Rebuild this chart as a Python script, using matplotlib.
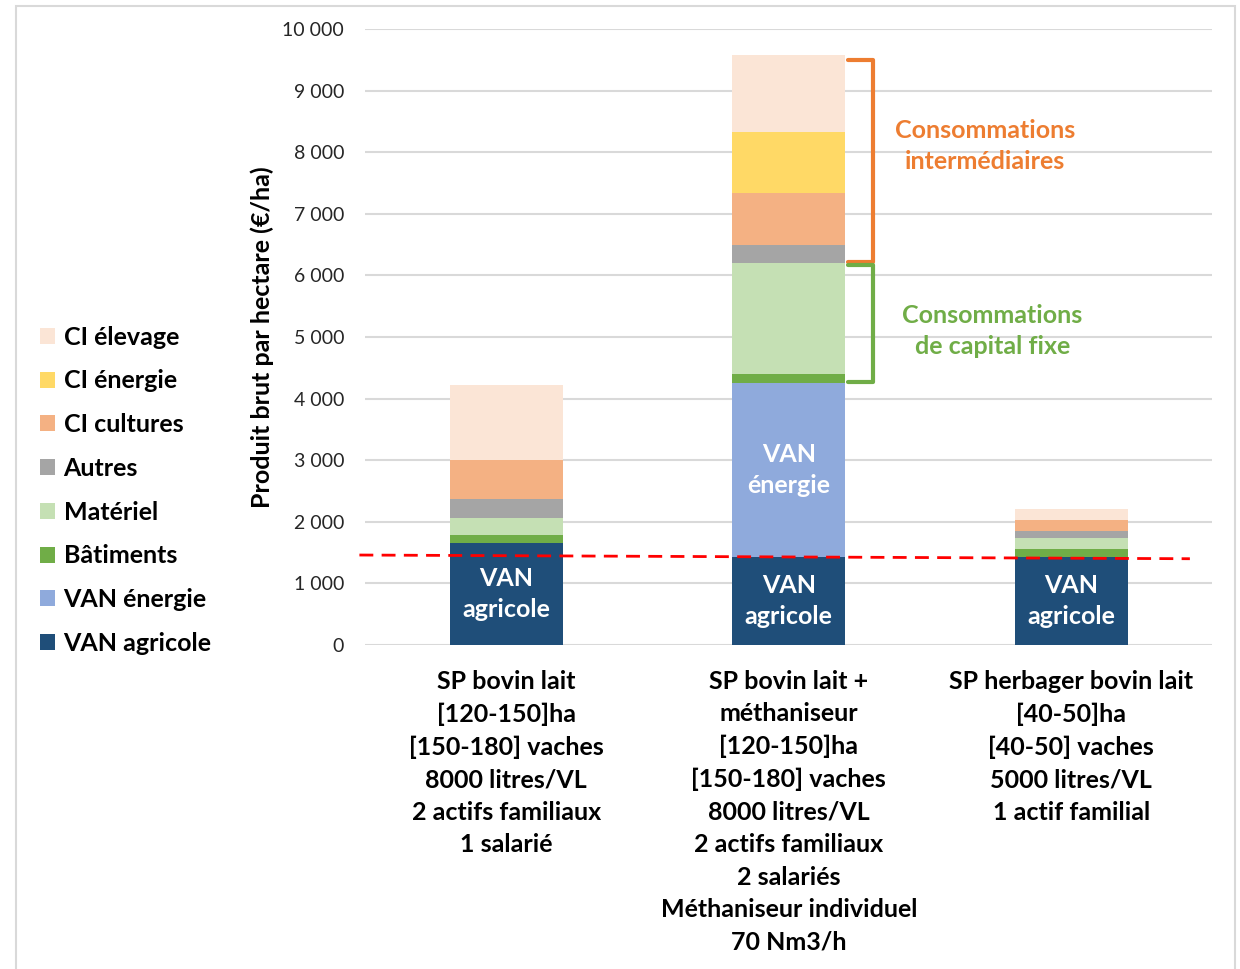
import numpy as np
import matplotlib.pyplot as plt
from matplotlib.patches import Rectangle

plt.rcParams['font.family'] = ['Lato', 'DejaVu Sans']

categories = [
    "SP bovin lait\n[120-150]ha\n[150-180] vaches\n8000 litres/VL\n2 actifs familiaux\n1 salarié",
    "SP bovin lait +\nméthaniseur\n[120-150]ha\n[150-180] vaches\n8000 litres/VL\n2 actifs familiaux\n2 salariés\nMéthaniseur individuel\n70 Nm3/h",
    "SP herbager bovin lait\n[40-50]ha\n[40-50] vaches\n5000 litres/VL\n1 actif familial",
]

# stacked from bottom to top
series_names = ["VAN agricole", "VAN énergie", "Bâtiments", "Matériel",
                "Autres", "CI cultures", "CI énergie", "CI élevage"]
van_agricole = [1650, 1430, 1430]
van_energie = [0, 2820, 0]
batiments = [140, 145, 130]
materiel = [270, 1800, 180]
autres = [310, 290, 115]
ci_cultures = [630, 845, 180]
ci_energie = [0, 1005, 0]
ci_elevage = [1220, 1235, 180]
colors = ["#1F4E79", "#8FAADC", "#70AD47", "#C5E0B4",
          "#A5A5A5", "#F4B183", "#FFD966", "#FBE5D6"]

# seuil (pointillés rouges)
seuil_x = [-0.52, 2.42]
seuil_y = [1460, 1400]

series = [van_agricole, van_energie, batiments, materiel,
          autres, ci_cultures, ci_energie, ci_elevage]

FS = 18

fig = plt.figure(figsize=(12.4, 9.69), dpi=100)
ax = fig.add_axes([0.2944, 0.3344, 0.6834, 0.6357])

x = np.arange(len(categories))
bottom = np.zeros(len(categories))
for name, vals, c in zip(series_names, series, colors):
    ax.bar(x, vals, 0.4, bottom=bottom, color=c, label=name, zorder=2)
    bottom += np.array(vals)

ax.set_xlim(-0.5, 2.5)
ax.set_ylim(0, 10000)
ax.set_yticks(np.arange(0, 10001, 1000))
ax.set_yticklabels([f"{v:,}".replace(",", " ") for v in range(0, 10001, 1000)],
                   fontsize=14, color="#262626")
ax.tick_params(axis='y', length=0, pad=15)
ax.tick_params(axis='x', length=0)
ax.yaxis.grid(True, color="#D9D9D9", lw=1.5, zorder=0)
for s in ax.spines.values():
    s.set_visible(False)
ax.set_xticks([])

ax.set_ylabel("Produit brut par hectare (€/ha)", fontsize=FS, fontweight='bold',
              labelpad=6)

for i, lab in enumerate(categories):
    ax.text(i, -0.04, lab, transform=ax.get_xaxis_transform(), ha='center',
            va='top', fontsize=FS, fontweight='bold', linespacing=1.5)

# étiquettes dans les barres
for i in range(3):
    ax.text(i, van_agricole[i] / 2, "VAN\nagricole", ha='center', va='center',
            color='white', fontsize=FS, fontweight='bold', linespacing=1.45)
ax.text(1, van_agricole[1] + van_energie[1] / 2, "VAN\nénergie", ha='center',
        va='center', color='white', fontsize=FS, fontweight='bold',
        linespacing=1.45)

ax.plot(seuil_x, seuil_y, color='#FF0000', lw=2, ls=(0, (5, 3)), zorder=3,
        clip_on=False)

# accolades sur la barre méthaniseur
tops = np.cumsum([s[1] for s in series])
def bracket(y0, y1, color):
    xs = [1.21, 1.297, 1.297, 1.21]
    ys = [y1, y1, y0, y0]
    ax.plot(xs, ys, color=color, lw=3, solid_joinstyle='round',
            solid_capstyle='round', zorder=3, clip_on=False)

bracket(tops[3] + 30, tops[7] - 80, "#ED7D31")
bracket(tops[1] + 20, tops[3] - 30, "#70AD47")
ax.text(1.695, 8100, "Consommations\nintermédiaires", ha='center', va='center',
        color="#ED7D31", fontsize=FS, fontweight='bold', linespacing=1.45)
ax.text(1.72, 5100, "Consommations\nde capital fixe", ha='center', va='center',
        color="#70AD47", fontsize=FS, fontweight='bold', linespacing=1.45)

handles, labels = ax.get_legend_handles_labels()
leg = fig.legend(handles[::-1], labels[::-1], loc='center left',
                 bbox_to_anchor=(0.014, 0.494), frameon=False,
                 prop={'weight': 'bold', 'size': FS}, handlelength=0.6,
                 handleheight=0.6, handletextpad=0.35, labelspacing=0.83)

fig.patches.append(Rectangle((16 / 1240, -0.05), (1235 - 16) / 1240,
                             1.05 - 6 / 969, transform=fig.transFigure,
                             fill=False, edgecolor="#D9D9D9", lw=1.5))

fig.savefig("out.png", dpi=100)
